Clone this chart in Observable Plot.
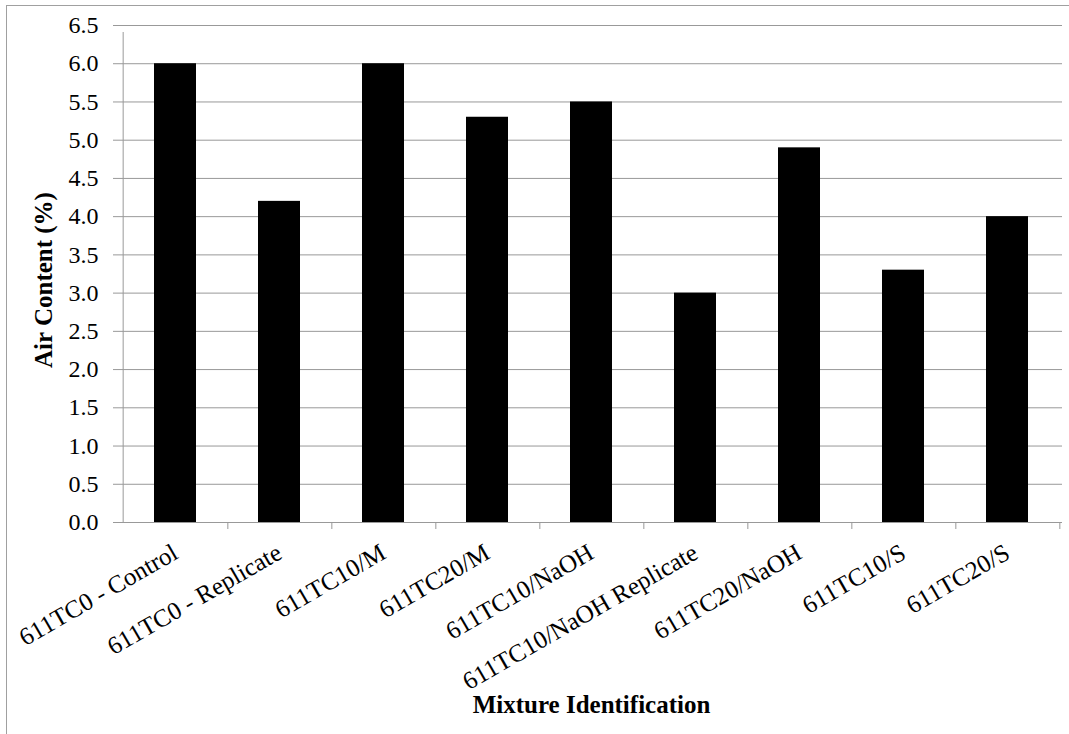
<!DOCTYPE html>
<html><head><meta charset="utf-8">
<script src="https://cdn.jsdelivr.net/npm/d3@7"></script>
<script src="https://cdn.jsdelivr.net/npm/@observablehq/plot@0.6"></script>
<style>
html,body{margin:0;padding:0;background:#fff;}
#wrap{position:relative;width:1069px;height:734px;overflow:hidden;}
#border{position:absolute;left:6px;top:5px;width:1200px;height:900px;border-left:1px solid #a0a0a0;border-top:1px solid #a0a0a0;}
#chart{position:absolute;left:0;top:0;}
</style></head><body>
<div id="wrap"><div id="border"></div><div id="chart"></div></div>
<script>
const categories = ["611TC0 - Control","611TC0 - Replicate","611TC10/M","611TC20/M","611TC10/NaOH","611TC10/NaOH Replicate","611TC20/NaOH","611TC10/S","611TC20/S"];
const airContent = [6.0, 4.2, 6.0, 5.3, 5.5, 3.0, 4.9, 3.3, 4.0];
const yTicks = [0,0.5,1,1.5,2,2.5,3,3.5,4,4.5,5,5.5,6,6.5];
const yLabel = "Air Content (%)";
const xLabel = "Mixture Identification";
const data = categories.map((c,i)=>({mixture:c, air: airContent[i]}));
const W=1069,H=734, mL=120, mR=7, mT=25, mB=212;
const step = (W-mL-mR)/categories.length;
const font = "'Liberation Serif','Times New Roman',serif";
const plot = Plot.plot({
  width:W,height:H,marginLeft:mL,marginRight:mR,marginTop:mT,marginBottom:mB,
  style:{fontFamily:font, background:"transparent", color:"#000", overflow:"visible"},
  x:{type:"band",domain:categories,paddingInner:0.6,paddingOuter:0.3,label:null},
  y:{domain:[0,6.5],label:null},
  marks:[
    Plot.ruleY(yTicks,{stroke:"#999",insetLeft:-7}),
    Plot.barY(data,{x:"mixture",y:"air",fill:"#000"}),
    Plot.ruleY([0],{stroke:"#999"}),
    Plot.ruleX([categories[0]],{y1:0,y2:6.5,dx:-step/2,stroke:"#999",insetBottom:-7}),
    Plot.ruleX(categories,{y1:0,y2:0,dx:step/2,stroke:"#999",insetBottom:-7}),
    Plot.axisY({ticks:yTicks,tickFormat:d=>d.toFixed(1),tickSize:0,tickPadding:22,fontSize:24,label:null}),
    Plot.axisX({tickSize:0,tickPadding:28,tickRotate:-30,fontSize:25,dx:0,label:null}),
    Plot.text([yLabel],{frameAnchor:"left",textAnchor:"middle",rotate:-90,dx:-77,dy:6,fontWeight:"bold",fontSize:25}),
    Plot.text([xLabel],{frameAnchor:"bottom",dy:190,fontWeight:"bold",fontSize:25})
  ]
});
document.getElementById("chart").appendChild(plot);
</script>
</body></html>
